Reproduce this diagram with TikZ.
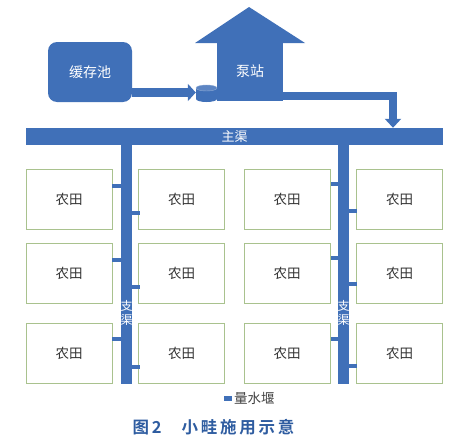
\documentclass[tikz,border=0pt]{standalone}
\usepackage{fontspec}
\newfontfamily\cjk{Noto Sans CJK SC}
\newfontfamily\cjkb{Noto Sans CJK SC Bold}
\usetikzlibrary{arrows.meta}
\definecolor{cblue}{HTML}{4070B8}
\definecolor{fgreen}{HTML}{A9C28E}
\definecolor{capblue}{HTML}{2E5CA0}
\begin{document}
\begin{tikzpicture}[x=1pt,y=-1pt,
  field/.style={draw=fgreen,line width=0.9pt,fill=white,minimum width=86pt,minimum height=60pt,inner sep=0pt,font=\cjk\fontsize{13.5}{14}\selectfont,text=black!80},
  bluebox/.style={fill=cblue,draw=none,inner sep=0pt,text=white,font=\cjk\fontsize{14}{15}\selectfont},
  weir/.style={fill=cblue,draw=none},
  pipe/.style={draw=cblue,line width=8.5pt}
]
\useasboundingbox (0,0) rectangle (461,442);
% buffer pool
\node[bluebox,rounded corners=9pt,minimum width=84pt,minimum height=60pt] (pool) at (90,72) {缓存池};
% pump house
\fill[cblue] (195,43) -- (249,7) -- (305,43) -- cycle;
\node[bluebox,minimum width=66pt,minimum height=58pt] (pump) at (250,72) {};
\node[text=white,font=\cjk\fontsize{14}{15}\selectfont] (pumplbl) at (250,71) {泵站};
% cylinder
\node[inner sep=0pt,minimum width=21pt,minimum height=17pt] (cyl) at (206.5,93.5) {};
\fill[cblue] (196,88) rectangle (217,99);
\fill[cblue] (206.5,99) ellipse (10.5pt and 3pt);
\fill[cblue!85!white] (206.5,88) ellipse (10.5pt and 3pt);
\draw[cblue!60!white,line width=0.4pt] (206.5,88) ellipse (10.5pt and 3pt);
% main canal
\node[bluebox,minimum width=417pt,minimum height=17pt,font=\cjk\fontsize{13}{14}\selectfont] (main) at (234.5,136.5) {主渠};
% arrow pool -> cylinder
\draw[cblue,line width=9pt,-{Triangle[width=17pt,length=8pt]}] (pool.east |- 0,92.5) -- (cyl.west |- 0,92.5);
% outlet pipe
\coordinate (bend) at (393,96);
\draw[cblue,line width=8pt] (pump.east |- bend) -- ([xshift=4pt]bend);
\draw[cblue,line width=8pt,-{Triangle[width=16pt,length=9pt]}] ([yshift=-4pt]bend) -- (bend |- main.north);
% branch canals
\node[bluebox,minimum width=11pt,minimum height=239pt,anchor=north] (bl) at (126.5,145) {};
\node[bluebox,minimum width=11pt,minimum height=239pt,anchor=north] (br) at (343.5,145) {};
\node[text=white,font=\cjk\fontsize{12}{14}\selectfont,align=center,inner sep=0pt] (bll) at (126.5,313) {支\\渠};
\node[text=white,font=\cjk\fontsize{12}{14}\selectfont,align=center,inner sep=0pt] (brl) at (343.5,313) {支\\渠};
% fields
\foreach \c/\x in {1/69, 2/181.5, 3/287, 4/399.5}{
  \foreach \r/\y in {1/199.5, 2/273, 3/353}{
    \node[field] (f\c\r) at (\x,\y) {农田};
  }
}
% weirs
\foreach \y in {186,260,339}{\fill[cblue] (112,\y-2.2) rectangle (121,\y+2.2);}
\foreach \y in {213,287,367}{\fill[cblue] (132,\y-2.2) rectangle (140,\y+2.2);}
\foreach \y in {184,258,339}{\fill[cblue] (331,\y-2.2) rectangle (338,\y+2.2);}
\foreach \y in {211,284,366}{\fill[cblue] (349,\y-2.2) rectangle (357,\y+2.2);}
% legend
\fill[cblue] (224,396) rectangle (232,400.5);
\node[anchor=west,inner sep=0pt,text=black!75,font=\cjk\fontsize{13.5}{14}\selectfont] (leg) at (234,398.5) {量水堰};
% caption
\node[text=capblue,font=\cjkb\fontsize{16.5}{17}\selectfont,inner sep=0pt] (cap) at (213.5,427) {图\,2\hspace{1.2em}小\,畦\,施\,用\,示\,意};
\end{tikzpicture}
\end{document}
